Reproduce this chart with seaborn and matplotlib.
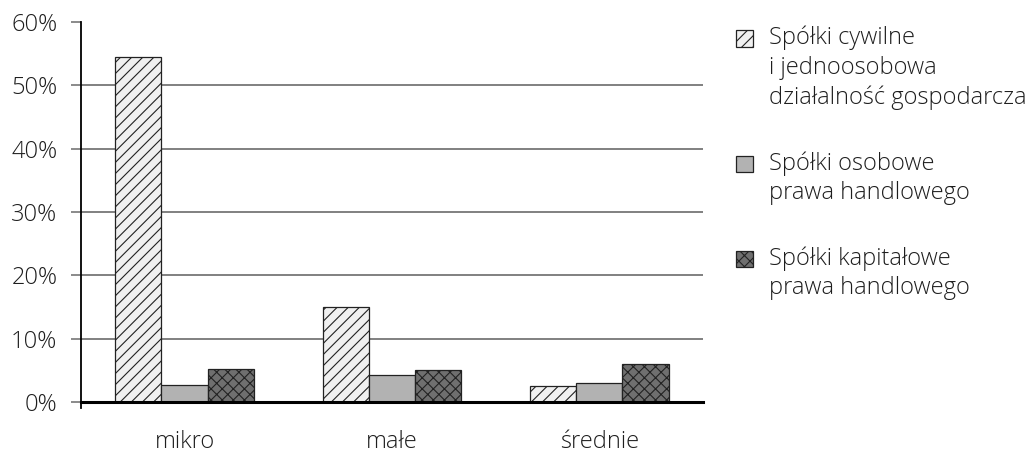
import matplotlib
matplotlib.use("Agg")
import matplotlib.pyplot as plt
import numpy as np
import pandas as pd
import seaborn as sns

categories = ["mikro", "małe", "średnie"]
series_names = [
    "Spółki cywilne\ni jednoosobowa\ndziałalność gospodarcza",
    "Spółki osobowe\nprawa handlowego",
    "Spółki kapitałowe\nprawa handlowego",
]
cywilne = [54.5, 15.0, 2.5]
osobowe = [2.7, 4.3, 3.0]
kapitalowe = [5.2, 5.1, 6.0]
y_ticks = [0, 10, 20, 30, 40, 50, 60]
y_tick_labels = [f"{t}%" for t in y_ticks]

colors = ["#f0f0f0", "#b2b2b2", "#6f6f6f"]
hatches = ["///", "", "xxx"]

df = pd.DataFrame({
    "size": categories * 3,
    "type": np.repeat(series_names, 3),
    "share": cywilne + osobowe + kapitalowe,
})

sns.set_theme(style="white")
plt.rcParams["font.family"] = ["Open Sans", "DejaVu Sans"]
plt.rcParams["font.weight"] = "light"
plt.rcParams["hatch.linewidth"] = 0.8
plt.rcParams["hatch.color"] = "#111111"
text_color = "#1e1e1e"
fs = 17

fig = plt.figure(figsize=(10.33, 4.59), dpi=100)
ax = fig.add_axes([0.0784, 0.1242, 0.6021, 0.8279])

sns.barplot(data=df, x="size", y="share", hue="type", hue_order=series_names,
            palette=colors, width=0.67, edgecolor="#222222", linewidth=0.9,
            saturation=1, ax=ax, legend=False)

for cont, h in zip(ax.containers, hatches):
    for bar in cont:
        bar.set_hatch(h)

ax.set_xlim(-0.5, 2.5)
ax.set_ylim(0, 60)
ax.set_yticks(y_ticks)
ax.set_yticklabels(y_tick_labels, fontsize=fs, color=text_color)
ax.set_xticks(range(len(categories)))
ax.set_xticklabels(categories, fontsize=fs, color=text_color)
ax.tick_params(axis="x", which="major", length=0, pad=20)
ax.set_xticks([-0.5, 0.5, 1.5, 2.5], minor=True)
ax.tick_params(axis="x", which="minor", length=6, width=1, color="#333333", direction="out")
ax.tick_params(axis="y", length=7, width=1.2, color="#777777", pad=10, left=True)
ax.set_xlabel("")
ax.set_ylabel("")

ax.yaxis.grid(True, color="#808080", linewidth=1.4)
ax.set_axisbelow(True)
ax.get_ygridlines()[-1].set_visible(False)

for s in ["top", "right"]:
    ax.spines[s].set_visible(False)
ax.spines["left"].set_color("black")
ax.spines["left"].set_linewidth(1.3)
ax.spines["left"].set_bounds(-0.9, 60)
ax.spines["bottom"].set_color("black")
ax.spines["bottom"].set_linewidth(2.2)

leg = fig.legend(handles=list(ax.containers), labels=series_names,
                 loc="upper left", bbox_to_anchor=(0.692, 0.99),
                 frameon=False, fontsize=fs, handlelength=0.7, handleheight=0.7,
                 handletextpad=0.7, labelspacing=1.75, labelcolor=text_color)

# line pitch of the legend labels, then move each handle up to the first line
pitch_pt = 21.6
for txt in leg.get_texts():
    txt.set_linespacing(1.3)
for handle, name in zip(leg.legend_handles, series_names):
    n = name.count("\n")
    handle.set_y(handle.get_y() + n * pitch_pt / 2)

fig.savefig("out.png", dpi=100)
